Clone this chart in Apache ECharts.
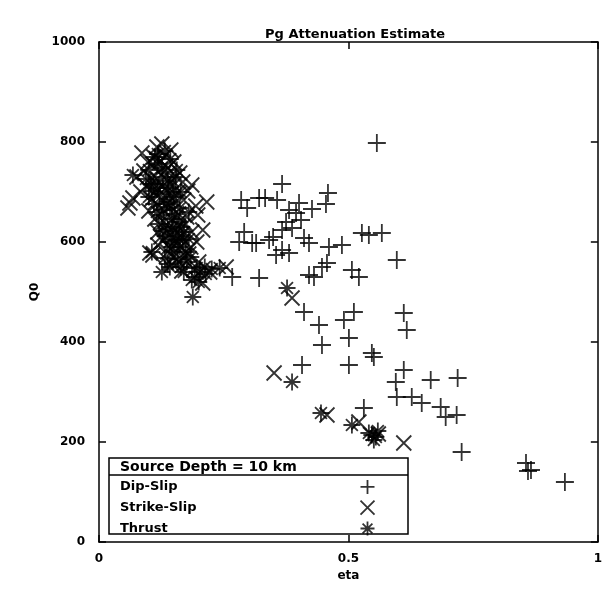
<!DOCTYPE html>
<html>
<head>
<meta charset="utf-8">
<script src="https://cdn.jsdelivr.net/npm/echarts@6/dist/echarts.min.js"></script>
<style>
  html, body { margin: 0; padding: 0; background: #fff; }
  #chart { width: 605px; height: 593px; }
</style>
</head>
<body>
<div id="chart"></div>
<script>
// Pg attenuation estimates: [eta, Q0] pairs per focal mechanism
const dipSlip = [
  [0.557, 798],
  [0.367, 716], [0.333, 688], [0.357, 684], [0.285, 684], [0.297, 668], [0.321, 688],
  [0.459, 698], [0.455, 676], [0.427, 666], [0.401, 678], [0.381, 664], [0.395, 658],
  [0.375, 640], [0.405, 644], [0.367, 624], [0.387, 628], [0.411, 608], [0.421, 598],
  [0.341, 604], [0.315, 598], [0.291, 620], [0.281, 600], [0.307, 598], [0.367, 584],
  [0.381, 578], [0.355, 574], [0.349, 610], [0.461, 590], [0.487, 594], [0.527, 618],
  [0.541, 614], [0.567, 618], [0.597, 564], [0.457, 558], [0.421, 534], [0.447, 550],
  [0.431, 530], [0.507, 544], [0.521, 530], [0.321, 528], [0.267, 530],
  [0.411, 460], [0.441, 434], [0.511, 460], [0.491, 444], [0.611, 458], [0.617, 424],
  [0.501, 408], [0.447, 394], [0.547, 378], [0.551, 370], [0.501, 354], [0.407, 354],
  [0.611, 344], [0.595, 320], [0.665, 324], [0.597, 290], [0.627, 290], [0.647, 278],
  [0.685, 270], [0.695, 250], [0.531, 268], [0.719, 328], [0.717, 254], [0.727, 180],
  [0.856, 158], [0.866, 144], [0.860, 142], [0.934, 120]
];

const strikeSlip = [
  [0.126, 796], [0.116, 790], [0.086, 778], [0.098, 760], [0.110, 770], [0.132, 772],
  [0.150, 760], [0.162, 738], [0.186, 714], [0.068, 688], [0.058, 668], [0.062, 678],
  [0.216, 680], [0.198, 654], [0.208, 624], [0.196, 600], [0.102, 578], [0.108, 574],
  [0.255, 550], [0.208, 518], [0.160, 560], [0.120, 740], [0.104, 728], [0.138, 748],
  [0.128, 712], [0.146, 724], [0.112, 700], [0.094, 712], [0.134, 690], [0.158, 700],
  [0.170, 684], [0.120, 672], [0.144, 660], [0.176, 650], [0.130, 640], [0.160, 630],
  [0.118, 620], [0.148, 610], [0.186, 620], [0.170, 596], [0.140, 590], [0.128, 602],
  [0.180, 576], [0.150, 570], [0.200, 560], [0.222, 540], [0.090, 742], [0.076, 730],
  [0.168, 720], [0.154, 680],
  [0.108, 756], [0.124, 762], [0.140, 738], [0.116, 726], [0.132, 706], [0.150, 714],
  [0.106, 686], [0.124, 684], [0.142, 672], [0.160, 656], [0.112, 646], [0.136, 634],
  [0.152, 624], [0.124, 610], [0.164, 612], [0.138, 580], [0.156, 598], [0.146, 556],
  [0.172, 572], [0.190, 546], [0.118, 594], [0.100, 662], [0.084, 700], [0.178, 702],
  [0.194, 672], [0.166, 542], [0.134, 752], [0.144, 784], [0.174, 636], [0.184, 590],
  [0.387, 488], [0.351, 338], [0.457, 254], [0.521, 240], [0.560, 216], [0.611, 198]
];

const thrust = [
  [0.068, 734], [0.188, 490], [0.186, 524], [0.202, 540], [0.242, 548], [0.142, 550],
  [0.106, 580], [0.126, 540], [0.143, 766], [0.118, 756], [0.100, 744], [0.128, 730],
  [0.110, 716], [0.140, 708], [0.122, 696], [0.100, 690], [0.150, 690], [0.136, 676],
  [0.116, 660], [0.162, 668], [0.146, 646], [0.126, 654], [0.160, 640], [0.138, 626],
  [0.156, 612], [0.170, 620], [0.142, 600], [0.162, 590], [0.150, 580], [0.176, 560],
  [0.164, 550], [0.132, 568], [0.192, 530], [0.212, 550], [0.226, 546], [0.180, 606],
  [0.106, 702], [0.132, 782], [0.094, 726], [0.154, 730],
  [0.112, 770], [0.126, 748], [0.138, 722], [0.118, 708], [0.148, 700], [0.130, 664],
  [0.110, 676], [0.152, 656], [0.166, 630], [0.128, 622], [0.148, 630], [0.134, 612],
  [0.168, 604], [0.146, 590], [0.158, 566], [0.174, 580], [0.138, 556], [0.184, 570],
  [0.196, 548], [0.170, 540], [0.120, 636], [0.104, 716], [0.156, 744], [0.164, 700],
  [0.118, 776], [0.180, 660], [0.142, 680], [0.154, 604], [0.200, 520], [0.214, 536],
  [0.377, 508], [0.387, 320], [0.445, 258], [0.507, 234], [0.547, 214], [0.555, 210],
  [0.541, 218], [0.559, 222], [0.551, 204]
];

const seriesNames = ['Dip-Slip', 'Strike-Slip', 'Thrust'];
const xTicks = [0, 0.5, 1];
const yTicks = [0, 200, 400, 600, 800, 1000];

const PLUS = 'path://M0,5L10,5M5,0L5,10';
const CROSS = 'path://M0,0L10,10M0,10L10,0';
const STAR = 'path://M0,5L10,5M5,0L5,10M1.5,1.5L8.5,8.5M1.5,8.5L8.5,1.5';

const FONT = '"DejaVu Sans", Arial, sans-serif';
const markStyle = { color: 'rgba(0,0,0,0)', borderColor: '#000', borderWidth: 1.8 };

const chart = echarts.init(document.getElementById('chart'), null, { renderer: 'canvas' });

const lineStyle = { color: '#000', width: 1.5 };
const baseX = {
  type: 'value', min: 0, max: 1, interval: 0.5,
  axisLine: { show: true, onZero: false, lineStyle: lineStyle },
  axisTick: { show: true, inside: true, length: 7, lineStyle: lineStyle },
  splitLine: { show: false }
};
const baseY = {
  type: 'value', min: 0, max: 1000, interval: 200,
  axisLine: { show: true, onZero: false, lineStyle: lineStyle },
  axisTick: { show: true, inside: true, length: 7, lineStyle: lineStyle },
  splitLine: { show: false }
};
const tickLabel = { fontFamily: FONT, fontWeight: 'bold', fontSize: 12, color: '#000' };

chart.setOption({
  animation: false,
  backgroundColor: '#fff',
  title: {
    text: 'Pg Attenuation Estimate',
    left: 350, top: 23, textAlign: 'center',
    textStyle: { fontFamily: FONT, fontWeight: 'bold', fontSize: 13, color: '#000' }
  },
  grid: { left: 99, top: 42, width: 501, height: 500, containLabel: false },
  xAxis: [
    Object.assign({}, baseX, {
      position: 'bottom',
      name: 'eta', nameLocation: 'middle', nameGap: 28,
      nameTextStyle: tickLabel,
      axisLabel: Object.assign({ margin: 11, formatter: v => (xTicks.includes(v) ? String(v) : '') }, tickLabel)
    }),
    Object.assign({}, baseX, { position: 'top', axisLabel: { show: false } })
  ],
  yAxis: [
    Object.assign({}, baseY, {
      position: 'left',
      name: 'Q0', nameLocation: 'middle', nameGap: 56,
      nameTextStyle: tickLabel,
      axisLabel: Object.assign({ margin: 14, formatter: v => (yTicks.includes(v) ? String(v) : '') }, tickLabel)
    }),
    Object.assign({}, baseY, { position: 'right', axisLabel: { show: false } })
  ],
  legend: {
    data: seriesNames,
    orient: 'vertical',
    left: 120, top: 479,
    align: 'right',
    itemWidth: 17, itemHeight: 14, itemGap: 5,
    padding: 0,
    selectedMode: false,
    itemStyle: markStyle,
    formatter: name => '{n|' + name + '}',
    textStyle: {
      fontFamily: FONT, fontWeight: 'bold', fontSize: 13, color: '#000',
      rich: { n: { width: 234, align: 'left', fontFamily: FONT, fontWeight: 'bold', fontSize: 13, color: '#000' } }
    }
  },
  graphic: [
    {
      type: 'rect', z: 1,
      shape: { x: 109, y: 458, width: 299, height: 76 },
      style: { fill: '#fff', stroke: '#000', lineWidth: 1.5 }
    },
    {
      type: 'line', z: 2,
      shape: { x1: 109, y1: 475, x2: 408, y2: 475 },
      style: { stroke: '#000', lineWidth: 1.5 }
    },
    {
      type: 'text', z: 2, x: 120, y: 467,
      style: {
        text: 'Source Depth = 10 km', fill: '#000',
        font: 'bold 14px ' + FONT, verticalAlign: 'middle'
      }
    }
  ],
  series: [
    { name: 'Dip-Slip', type: 'scatter', symbol: PLUS, symbolSize: 18, data: dipSlip, itemStyle: markStyle, z: 3 },
    { name: 'Strike-Slip', type: 'scatter', symbol: CROSS, symbolSize: 15, data: strikeSlip, itemStyle: markStyle, z: 3 },
    { name: 'Thrust', type: 'scatter', symbol: STAR, symbolSize: 17, data: thrust, itemStyle: markStyle, z: 3 }
  ]
});
</script>
</body>
</html>
